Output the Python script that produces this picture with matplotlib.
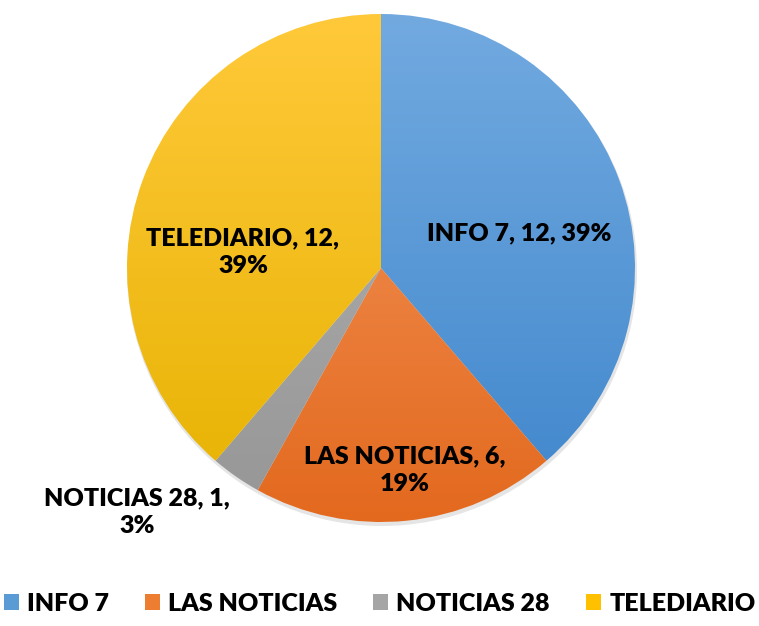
import numpy as np
import matplotlib.pyplot as plt
from matplotlib.patches import Patch
from matplotlib.colors import LinearSegmentedColormap

# Data
channels = ['INFO 7', 'LAS NOTICIAS', 'NOTICIAS 28', 'TELEDIARIO']
counts = [12, 6, 1, 12]
top_colors = ['#72AAE0', '#F59A62', '#B4B4B4', '#FFC93A']
bottom_colors = ['#3F86CC', '#E3691E', '#969696', '#E6B200']
mid_colors = ['#5B9BD5', '#ED7D31', '#A5A5A5', '#FFC000']

plt.rcParams['font.family'] = ['Lato', 'DejaVu Sans']

fig = plt.figure(figsize=(7.59, 6.26), dpi=100)
ax = fig.add_axes([0, 0, 1, 1])

cx, cy, r = 381, 268, 254

# light shadow under the pie
shadow = plt.Circle((cx + 1, cy + 3), r + 1, color='#000000', alpha=0.10, lw=0)
ax.add_patch(shadow)

# y axis gets flipped, so startangle -90 is the top and the order runs clockwise
wedges, _ = ax.pie(counts, center=(cx, cy), radius=r, startangle=-90,
                   counterclock=True, frame=True,
                   wedgeprops=dict(linewidth=0))

grad = np.linspace(0, 1, 256).reshape(-1, 1)
for w, c0, c1 in zip(wedges, top_colors, bottom_colors):
    w.set_facecolor('none')
    cmap = LinearSegmentedColormap.from_list('g', [c0, c1])
    im = ax.imshow(grad, cmap=cmap, extent=(cx - r, cx + r, cy + r, cy - r),
                   aspect='auto', zorder=2, interpolation='bilinear')
    im.set_clip_path(w)

ax.set_xlim(0, 759)
ax.set_ylim(626, 0)
ax.set_aspect('equal')
ax.axis('off')

total = sum(counts)
pcts = [round(100 * c / total) for c in counts]
label_text = [
    f'{channels[0]}, {counts[0]}, {pcts[0]}%',
    f'{channels[1]}, {counts[1]},\n{pcts[1]}%',
    f'{channels[2]}, {counts[2]},\n{pcts[2]}%',
    f'{channels[3]}, {counts[3]},\n{pcts[3]}%',
]
label_pos = [(519, 233), (405, 470), (137, 512), (243, 252)]
for txt, (x, y) in zip(label_text, label_pos):
    ax.text(x, y, txt, ha='center', va='center', fontsize=18, fontweight='heavy',
            color='black', linespacing=1.3, zorder=5)

handles = [Patch(facecolor=c, edgecolor='none') for c in mid_colors]
fig.legend(handles, channels, loc='center', bbox_to_anchor=(0.5, 0.035), ncol=4,
           frameon=False, prop=dict(size=18, weight='heavy'),
           handlelength=0.6, handleheight=0.6, handletextpad=0.32,
           columnspacing=1.45, borderaxespad=0, borderpad=0)

plt.savefig('out.png', dpi=100)
